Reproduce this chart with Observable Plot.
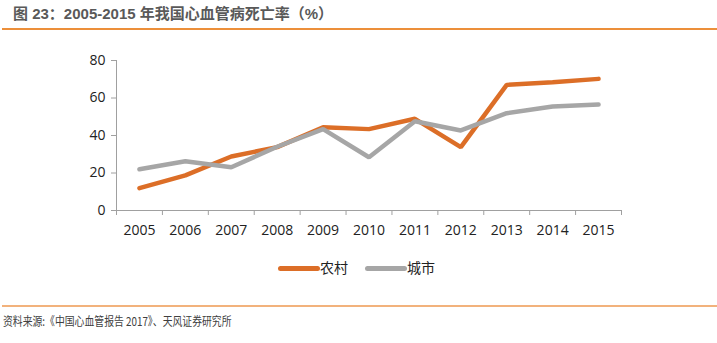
<!DOCTYPE html>
<html>
<head>
<meta charset="utf-8">
<script src="https://cdn.jsdelivr.net/npm/d3@7"></script>
<script src="https://cdn.jsdelivr.net/npm/@observablehq/plot@0.6"></script>
<style>
  html, body { margin: 0; padding: 0; background: #fff; }
  #wrap { position: relative; width: 717px; height: 343px; overflow: hidden; font-family: "Open Sans", "Noto Sans CJK SC", sans-serif; }
  #title { position: absolute; left: 13px; top: 2px; font-size: 15px; font-weight: bold; color: #595959; font-family: "Liberation Sans", "Noto Sans CJK SC", sans-serif; white-space: nowrap; }
  #rule1 { position: absolute; left: 2px; top: 28px; width: 715px; height: 2px; background: #EC8F3A; }
  #chart { position: absolute; left: 0; top: 40px; }
  #legend { position: absolute; top: 259px; left: 278px; font-size: 14px; color: #222; font-family: "Noto Sans CJK SC", sans-serif; white-space: nowrap; }
  .item { position: absolute; top: 0; height: 18px; }
  .sw { position: absolute; top: 7px; height: 5px; border-radius: 2.5px; }
  .lab { position: absolute; top: -2px; }
  #rule2 { position: absolute; left: 2px; top: 305px; width: 715px; height: 1.5px; background: #F2B27C; }
  #foot { position: absolute; left: 3px; top: 312px; font-size: 12px; color: #404040; font-family: "Noto Sans CJK SC", sans-serif; white-space: nowrap; transform: scaleX(0.82); transform-origin: 0 0; }
</style>
</head>
<body>
<div id="wrap">
  <div id="title">图 23：2005-2015 年我国心血管病死亡率（%）</div>
  <div id="rule1"></div>
  <div id="chart"></div>
  <div id="legend"></div>
  <div id="rule2"></div>
  <div id="foot">资料来源:《中国心血管报告 2017》、天风证券研究所</div>
</div>
<script>
const years = [2005, 2006, 2007, 2008, 2009, 2010, 2011, 2012, 2013, 2014, 2015];
const rural = [11.9, 18.7, 28.8, 33.8, 44.4, 43.4, 48.9, 33.8, 67.0, 68.4, 70.2];
const urban = [22.0, 26.3, 23.1, 34.0, 43.4, 28.4, 47.6, 42.7, 51.9, 55.5, 56.5];
const seriesNames = ["农村", "城市"];
const seriesColors = ["#DC6E27", "#A6A6A6"];
const yTicks = [0, 20, 40, 60, 80];

const data = [];
years.forEach((y, i) => {
  data.push({year: y, value: rural[i], series: seriesNames[0]});
  data.push({year: y, value: urban[i], series: seriesNames[1]});
});
const boundaries = years.map(y => y - 0.5).concat([years[years.length - 1] + 0.5]);
const xMin = boundaries[0], xMax = boundaries[boundaries.length - 1];

const chart = Plot.plot({
  width: 717,
  height: 200,
  marginTop: 20,
  marginBottom: 30,
  marginLeft: 116,
  marginRight: 96,
  style: {fontFamily: "'Open Sans', sans-serif", fontSize: "14px", color: "#222", background: "transparent"},
  x: {type: "linear", domain: [xMin, xMax]},
  y: {domain: [0, 80]},
  color: {domain: seriesNames, range: seriesColors},
  marks: [
    Plot.ruleY([0], {stroke: "#A0A0A0", strokeWidth: 1}),
    Plot.ruleX([xMin], {stroke: "#A0A0A0", strokeWidth: 1}),
    Plot.axisY({ticks: yTicks, tickSize: 5, tickPadding: 6, stroke: "#A0A0A0", label: null, fontSize: 14}),
    Plot.axisX({ticks: boundaries, tickSize: 5, tickFormat: () => "", stroke: "#A0A0A0", label: null}),
    Plot.axisX({ticks: years, tickSize: 0, tickPadding: 15, tickFormat: d => String(d), label: null, fontSize: 14}),
    Plot.line(data, {x: "year", y: "value", z: "series", stroke: "series", strokeWidth: 4.5, strokeLinejoin: "miter", strokeLinecap: "round"})
  ]
});
document.getElementById("chart").appendChild(chart);

// Legend
const legend = document.getElementById("legend");
const offsets = [0, 87];
seriesNames.forEach((name, i) => {
  const item = document.createElement("div");
  item.className = "item";
  item.style.left = offsets[i] + "px";
  const sw = document.createElement("div");
  sw.className = "sw";
  sw.style.left = "0px";
  sw.style.width = "42px";
  sw.style.background = seriesColors[i];
  const lab = document.createElement("div");
  lab.className = "lab";
  lab.style.left = "42px";
  lab.textContent = name;
  item.appendChild(sw);
  item.appendChild(lab);
  legend.appendChild(item);
});
</script>
</body>
</html>
